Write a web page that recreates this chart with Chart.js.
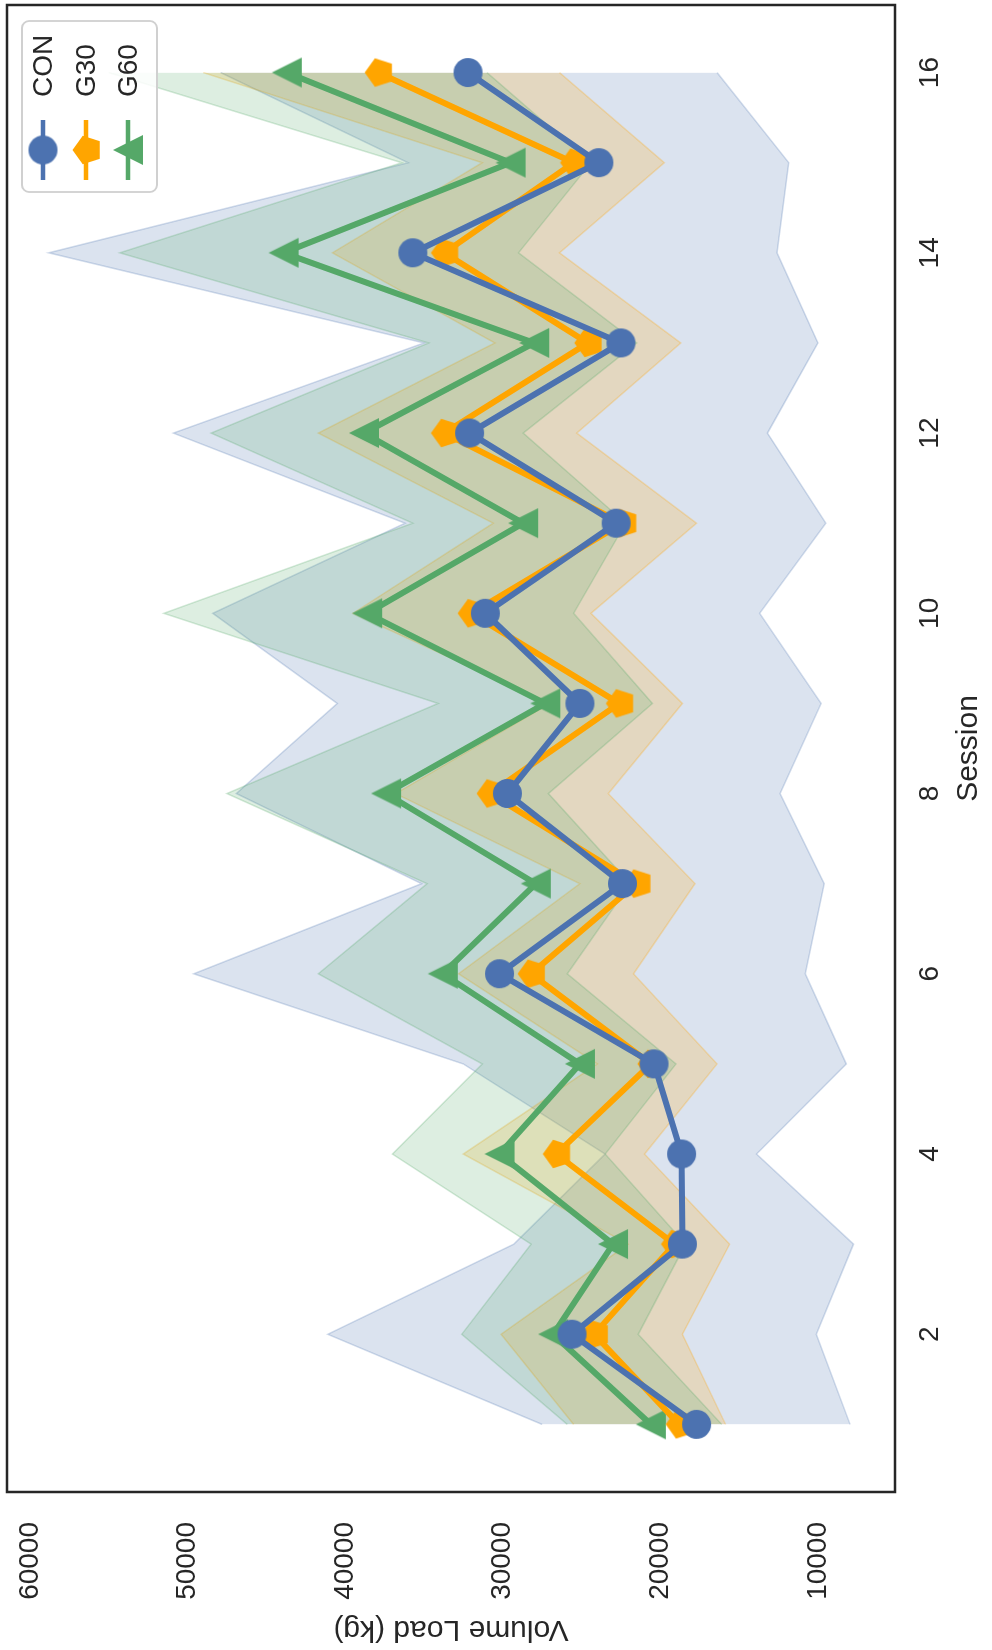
<!DOCTYPE html>
<html><head><meta charset="utf-8">
<script src="https://cdn.jsdelivr.net/npm/chart.js@4.4.1/dist/chart.umd.min.js"></script>
<style>
html,body{margin:0;padding:0;background:#fff;overflow:hidden;width:992px;height:1650px;}
#wrap{position:absolute;left:0;top:0;width:1650px;height:992px;transform-origin:0 0;transform:translate(0,1650px) rotate(-90deg);}
canvas{display:block;}
</style></head><body>
<div id="wrap"><canvas id="c" width="1650" height="992"></canvas></div>
<script>
// ---- data ----
const sessions = [1,2,3,4,5,6,7,8,9,10,11,12,13,14,15,16];
const sessionTicks = [2,4,6,8,10,12,14,16];
const volumeTicks = [10000,20000,30000,40000,50000,60000];
const groupNames = ['CON','G30','G60'];

const conMean  = [17700,25600,18600,18650,20400,30200,22400,29700,25100,31100,22800,32100,22500,35700,23900,32200];
const conUpper = [27500,41100,29300,23500,32500,49600,35150,46900,40500,48400,36200,50900,35000,58800,36000,47900];
const conLower = [7960,10100,7740,13900,8200,10800,9600,12400,9800,13700,9500,13200,10000,12600,11850,16400];

const g30Mean  = [18800,24200,19100,26600,20600,28200,21500,30800,22600,32000,22400,33700,24600,33700,25500,37900];
const g30Upper = [25500,30100,22050,32500,24000,32800,25100,36800,27000,39500,30600,41700,30500,40800,31300,49000];
const g30Lower = [15860,18600,15600,21000,16400,21700,17800,23300,18600,24400,17700,25300,18700,26400,19750,26400];

const g60Mean  = [20600,26800,23000,30200,25100,33800,27900,37400,27300,38600,28700,38800,28000,43900,29500,43700];
const g60Upper = [25900,32600,28200,37000,31300,41700,34800,47500,34100,51500,35700,48500,34700,54300,36400,55000];
const g60Lower = [16100,21400,18400,23500,19000,25900,21900,27100,20500,25500,22200,28700,21500,29000,24400,31000];

// ---- styles ----
const colors = ['#4C72B0','#FFA500','#55A868'];
const rgbs = ['76,114,176','255,165,0','85,168,104'];
const shapes = ['circle','pentagon','triangle'];
const markerSizes = [29,30,30];

function makeMarker(shape, color, size){
  const s = Math.ceil(size) + 2;
  const c = document.createElement('canvas');
  c.width = s; c.height = s;
  const g = c.getContext('2d');
  g.fillStyle = color;
  const cx = s/2, r = size/2;
  g.beginPath();
  if (shape === 'circle') {
    g.arc(cx, cx, r, 0, Math.PI*2);
  } else if (shape === 'pentagon') {
    for (let i=0;i<5;i++){
      const a = -Math.PI/2 + i*2*Math.PI/5;
      const px = cx + r*Math.cos(a), py = cx + 1.5 + r*Math.sin(a);
      if (i===0) g.moveTo(px,py); else g.lineTo(px,py);
    }
  } else {
    g.moveTo(cx, cx - r);
    g.lineTo(cx - r, cx + r);
    g.lineTo(cx + r, cx + r);
  }
  g.closePath();
  g.fill();
  return c;
}
const markers = shapes.map((s,i)=>makeMarker(s, colors[i], markerSizes[i]));

const means = [conMean, g30Mean, g60Mean];
const uppers = [conUpper, g30Upper, g60Upper];
const lowers = [conLower, g30Lower, g60Lower];
const pts = arr => sessions.map((s,i)=>({x:s, y:arr[i]}));

const datasets = [];
groupNames.forEach((n,i)=>{
  datasets.push({
    label:n, data:pts(means[i]), borderColor:colors[i], backgroundColor:colors[i],
    borderWidth:6, borderJoinStyle:'round', pointStyle:markers[i], pointRadius:14,
    pointHoverRadius:14, fill:false, tension:0, order:0
  });
});
groupNames.forEach((n,i)=>{
  const upIdx = datasets.length;
  datasets.push({
    label:n+' upper', data:pts(uppers[i]), borderColor:'rgba('+rgbs[i]+',0.25)',
    borderWidth:1.5, pointRadius:0, fill:false, tension:0, order:13-i
  });
  datasets.push({
    label:n+' lower', data:pts(lowers[i]), borderColor:'rgba('+rgbs[i]+',0.25)',
    backgroundColor:'rgba('+rgbs[i]+',0.2)',
    borderWidth:1.5, pointRadius:0, fill:upIdx, tension:0, order:13-i
  });
});

const FONT = '"Liberation Sans", Arial, Helvetica, sans-serif';
Chart.defaults.font.family = FONT;
Chart.defaults.color = '#262626';

const framePlugin = {
  id:'frame',
  afterDraw(chart){
    const {ctx, chartArea:a} = chart;
    ctx.save();
    ctx.strokeStyle = '#262626';
    ctx.lineWidth = 2.5;
    ctx.strokeRect(a.left, a.top, a.right - a.left, a.bottom - a.top);
    ctx.restore();
  }
};

const legendPlugin = {
  id:'customLegend',
  afterDraw(chart){
    const {ctx, chartArea:a} = chart;
    const w = 171, h = 135, r = 7;
    const x = a.right - 16 - w, y = a.top + 15;
    ctx.save();
    ctx.beginPath();
    ctx.moveTo(x+r, y);
    ctx.lineTo(x+w-r, y); ctx.arcTo(x+w, y, x+w, y+r, r);
    ctx.lineTo(x+w, y+h-r); ctx.arcTo(x+w, y+h, x+w-r, y+h, r);
    ctx.lineTo(x+r, y+h); ctx.arcTo(x, y+h, x, y+h-r, r);
    ctx.lineTo(x, y+r); ctx.arcTo(x, y, x+r, y, r);
    ctx.closePath();
    ctx.fillStyle = 'rgba(255,255,255,0.85)';
    ctx.fill();
    ctx.strokeStyle = '#d0d0d0';
    ctx.lineWidth = 1.8;
    ctx.stroke();
    const rows = [21, 64, 106];
    groupNames.forEach((n,i)=>{
      const ry = y + rows[i];
      ctx.strokeStyle = colors[i];
      ctx.lineWidth = 4.5;
      ctx.beginPath();
      ctx.moveTo(x+12, ry); ctx.lineTo(x+72, ry);
      ctx.stroke();
      const m = markers[i];
      ctx.drawImage(m, x+42 - m.width/2, ry - m.height/2);
      ctx.fillStyle = '#262626';
      ctx.font = '28px ' + FONT;
      ctx.textAlign = 'left';
      ctx.textBaseline = 'middle';
      ctx.fillText(n, x+95, ry+1);
    });
    ctx.restore();
  }
};

function zeroPad(s){ s.paddingTop = 0; s.paddingBottom = 0; s.paddingLeft = 0; s.paddingRight = 0; }

new Chart(document.getElementById('c'), {
  type:'line',
  data:{datasets},
  options:{
    responsive:false,
    devicePixelRatio:1,
    animation:false,
    layout:{autoPadding:false, padding:{left:0,right:5,top:7,bottom:0}},
    plugins:{legend:{display:false}, tooltip:{enabled:false}},
    scales:{
      x:{
        type:'linear', position:'bottom', min:0.25, max:16.75,
        grid:{display:false, drawTicks:false}, border:{display:false},
        afterBuildTicks(s){ s.ticks = sessionTicks.map(v=>({value:v})); },
        afterFit(s){ s.height = 97; zeroPad(s); },
        ticks:{autoSkip:false, maxRotation:0, padding:18, font:{size:28}, color:'#262626', callback:v=>String(v)},
        title:{display:true, text:'Session', font:{size:30}, color:'#262626', padding:{top:0,bottom:5}}
      },
      y:{
        type:'linear', position:'left', min:5110, max:61450,
        grid:{display:false, drawTicks:false}, border:{display:false},
        afterBuildTicks(s){ s.ticks = volumeTicks.map(v=>({value:v})); },
        afterFit(s){ s.width = 158; zeroPad(s); },
        ticks:{autoSkip:false, padding:30, font:{size:28}, color:'#262626', callback:v=>String(v)},
        title:{display:true, text:'Volume Load (kg)', font:{size:30}, color:'#262626', padding:{top:3,bottom:0}}
      }
    }
  },
  plugins:[framePlugin, legendPlugin]
});
</script>
</body></html>
